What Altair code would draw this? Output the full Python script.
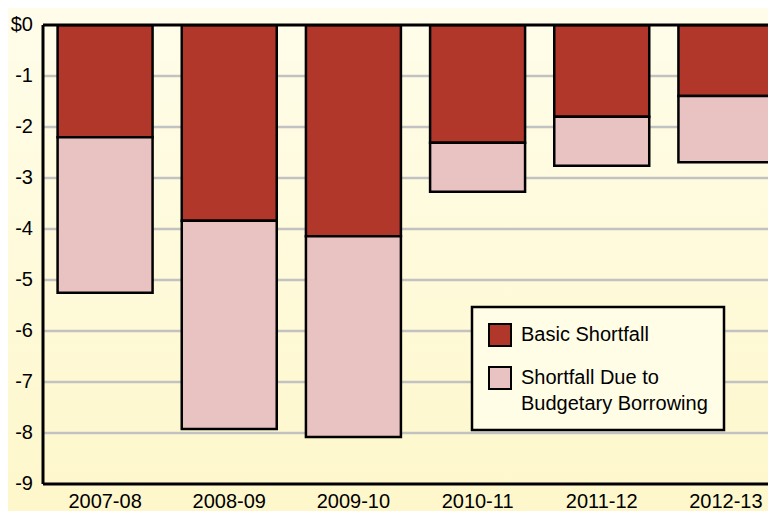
import altair as alt
import pandas as pd

years = ["2007-08", "2008-09", "2009-10", "2010-11", "2011-12", "2012-13"]
basic = [-2.2, -3.84, -4.14, -2.31, -1.80, -1.39]
borrowing = [-3.05, -4.08, -3.94, -0.96, -0.96, -1.30]
series = ["Basic Shortfall", "Shortfall Due to Budgetary Borrowing"]
colors = ["#B2372B", "#E8C3C1"]
y_ticks = [0, -1, -2, -3, -4, -5, -6, -7, -8, -9]
y_labels = ["$0", "-1", "-2", "-3", "-4", "-5", "-6", "-7", "-8", "-9"]

rows = []
for i, yr in enumerate(years):
    rows.append({"year": yr, "series": series[0], "value": basic[i], "ord": 0})
    rows.append({"year": yr, "series": series[1], "value": borrowing[i], "ord": 1})
df = pd.DataFrame(rows)
grid_df = pd.DataFrame({"v": y_ticks[1:-1]})
lab_df = pd.DataFrame({"v": y_ticks, "t": y_labels})

W, H = 725, 459
FONT = "Liberation Sans"
yscale = alt.Scale(domain=[-9, 0], nice=False)

bg = alt.Chart(alt.Data(values=[{}])).mark_rect(
    fill=alt.Gradient(
        gradient="linear",
        stops=[alt.GradientStop(offset=0, color="#FFFDEA"),
               alt.GradientStop(offset=1, color="#FEF7CB")],
        x1=0, x2=0, y1=0, y2=1),
).encode(x=alt.value(-35), x2=alt.value(W), y=alt.value(-17), y2=alt.value(H + 27))

grid = alt.Chart(grid_df).mark_rule(color="#C2C2C2", strokeWidth=2.5).encode(
    y=alt.Y("v:Q", scale=yscale, axis=None))

bars = alt.Chart(df).mark_bar(stroke="black", strokeWidth=2.5, clip=True).encode(
    x=alt.X("year:N", sort=years,
            scale=alt.Scale(range=[0, 745], paddingInner=0.235, paddingOuter=0.1175),
            axis=alt.Axis(title=None, labelAngle=0, ticks=False, grid=False,
                          domain=False, labelFontSize=20, labelFont=FONT,
                          labelColor="black", labelPadding=7, zindex=1)),
    y=alt.Y("value:Q", stack="zero", scale=yscale,
            axis=alt.Axis(title=None, values=y_ticks, grid=False, labels=False,
                          domain=False, tickColor="black", tickWidth=2.5,
                          tickSize=6, zindex=1)),
    color=alt.Color("series:N", sort=series,
                    scale=alt.Scale(domain=series, range=colors),
                    legend=alt.Legend(
                        title=None, orient="none", legendX=429, legendY=282,
                        direction="vertical", symbolType="square", symbolSize=484,
                        symbolStrokeColor="black", symbolStrokeWidth=2,
                        labelFontSize=20, labelFont=FONT, labelColor="black",
                        labelLimit=400, labelOffset=9, labelBaseline="middle",
                        rowPadding=13, padding=16, strokeColor="black",
                        fillColor="#FFFDE6",
                        labelExpr="datum.label == 'Basic Shortfall' ? datum.label : ['Shortfall Due to', 'Budgetary Borrowing']")),
    order=alt.Order("ord:Q"),
)

ylabels = alt.Chart(lab_df).mark_text(
    align="right", baseline="middle", font=FONT, fontSize=20, color="black", dx=-10
).encode(x=alt.value(0), y=alt.Y("v:Q", scale=yscale, axis=None), text="t:N")

zero_rule = alt.Chart(alt.Data(values=[{"v": 0}])).mark_rule(
    color="black", strokeWidth=3).encode(y=alt.Y("v:Q", scale=yscale, axis=None))
bottom_rule = alt.Chart(alt.Data(values=[{"v": -9}])).mark_rule(
    color="black", strokeWidth=3).encode(y=alt.Y("v:Q", scale=yscale, axis=None))
left_rule = alt.Chart(alt.Data(values=[{}])).mark_rule(
    color="black", strokeWidth=3).encode(x=alt.value(0), y=alt.value(0), y2=alt.value(H))

chart = alt.layer(bg, grid, bars, ylabels, zero_rule, bottom_rule, left_rule).properties(
    width=W, height=H,
    autosize=alt.AutoSizeParams(type="none"),
    padding={"left": 35, "top": 17, "right": 0, "bottom": 27},
).configure(
    background="#FFFDEA",
    style={"guide-label": {"lineHeight": 26}},
).configure_view(stroke=None).configure_legend(strokeWidth=2.5, cornerRadius=0)

chart.save("out.html", embed_options={"renderer": "svg", "actions": False})
